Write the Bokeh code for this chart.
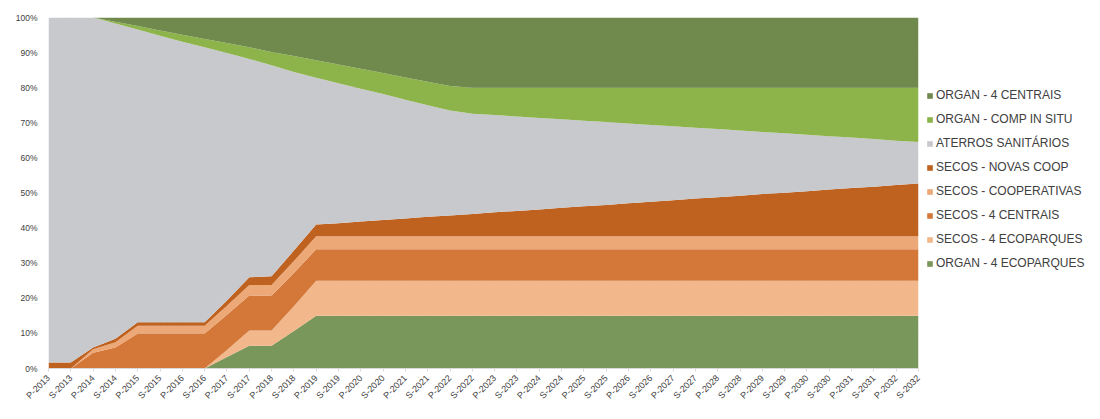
from bokeh.plotting import figure
from bokeh.models import ColumnDataSource, Legend, LegendItem, FixedTicker, Range1d
from bokeh.embed import file_html
from bokeh.resources import INLINE
from math import pi

# ---- data (percent shares) ----
years = list(range(2013, 2033))
periods = [f"{h}-{y}" for y in years for h in ("P", "S")]

organ_4_ecoparques = [0, 0, 0, 0, 0, 0, 0, 0, 3.3, 6.5, 6.5, 10.7] + [15] * 28
secos_4_ecoparques = [0, 0, 0, 0, 0, 0, 0, 0, 2.0, 4.3, 4.3, 7.0] + [10] * 28
secos_4_centrais = [0, 0, 4.5, 6.0, 10, 10, 10, 10, 10, 10, 10, 9.5] + [9] * 28
secos_cooperativas = [0, 0, 1.0, 1.5, 2.2, 2.2, 2.2, 2.2, 2.6, 3.0, 3.0, 3.4] + [3.7] * 28
secos_novas_coop = [1.7, 1.7, 0.5, 1.0, 1.0, 1.0, 1.0, 1.0, 1.5, 2.2, 2.5, 3.0,
                    3.3, 3.7, 4.2, 4.6, 5.0, 5.5, 5.9, 6.3, 6.8, 7.2, 7.6, 8.1, 8.5, 8.9,
                    9.4, 9.8, 10.2, 10.7, 11.1, 11.5, 12.0, 12.4, 12.8, 13.3, 13.7, 14.1, 14.6, 15.0]
aterros_sanitarios = [98.3, 98.3, 94.0, 89.8, 83.4, 81.6, 79.9, 78.3, 70.5, 62.2, 60.1, 50.9,
                      41.8, 39.9, 37.8, 35.9, 33.9, 31.8, 29.9, 28.6, 27.7, 26.9, 26.1, 25.2,
                      24.4, 23.6, 22.7, 21.9, 21.1, 20.2, 19.4, 18.6, 17.7, 16.9, 16.1, 15.2,
                      14.4, 13.6, 12.6, 11.8]
organ_comp_in_situ = [0, 0, 0, 0.5, 1.0, 1.5, 2.0, 2.4, 2.8, 3.3, 3.8, 4.5, 5.0, 5.3, 5.7, 6.0,
                      6.3, 6.7, 7.0, 7.4, 7.8, 8.2, 8.6, 9.0, 9.4, 9.8, 10.2, 10.6, 11.0, 11.4,
                      11.8, 12.2, 12.6, 13.0, 13.4, 13.8, 14.2, 14.6, 15.1, 15.5]
organ_4_centrais = [0, 0, 0, 1.2, 2.4, 3.7, 4.9, 6.1, 7.3, 8.5, 9.8, 11.0, 12.2, 13.4, 14.6,
                    15.8, 17.1, 18.3, 19.5] + [20] * 21

series_names = ["ORGAN - 4 ECOPARQUES", "SECOS - 4 ECOPARQUES", "SECOS - 4 CENTRAIS",
                "SECOS - COOPERATIVAS", "SECOS - NOVAS COOP", "ATERROS SANITÁRIOS",
                "ORGAN - COMP IN SITU", "ORGAN - 4 CENTRAIS"]
series_values = [organ_4_ecoparques, secos_4_ecoparques, secos_4_centrais, secos_cooperativas,
                 secos_novas_coop, aterros_sanitarios, organ_comp_in_situ, organ_4_centrais]
colors = ["#7A975B", "#F2B78B", "#D4783A", "#EDA877", "#BF6220", "#C8C9CD", "#8DB44A", "#6F8A4C"]
y_ticks = list(range(0, 101, 10))

# ---- build ----
keys = [f"s{i}" for i in range(len(series_names))]
data = {"x": list(range(len(periods)))}
for k, v in zip(keys, series_values):
    data[k] = v
source = ColumnDataSource(data)

p = figure(frame_width=870, frame_height=351, output_backend="svg", toolbar_location=None,
           x_range=Range1d(0, len(periods) - 1), y_range=Range1d(0, 100),
           min_border_left=48, min_border_top=17, min_border_bottom=51, min_border_right=0,
           background_fill_color="white", border_fill_color="white")
p.outline_line_color = None

renderers = p.varea_stack(stackers=keys, x="x", color=colors, source=source)

font = "Liberation Sans"
p.xaxis.ticker = FixedTicker(ticks=list(range(len(periods))))
p.xaxis.major_label_overrides = {i: lab for i, lab in enumerate(periods)}
p.xaxis.major_label_orientation = pi / 4
p.xaxis.major_label_text_font_size = "9px"
p.xaxis.major_label_text_font = font
p.xaxis.major_label_text_color = "#404040"
p.xaxis.axis_line_color = "#D9D9D9"
p.xaxis.major_tick_line_color = "#D9D9D9"
p.xaxis.major_tick_in = 0
p.xaxis.major_tick_out = 3
p.xaxis.minor_tick_line_color = None

p.yaxis.ticker = FixedTicker(ticks=y_ticks)
p.yaxis.major_label_overrides = {t: f"{t}%" for t in y_ticks}
p.yaxis.major_label_text_font_size = "8.5px"
p.yaxis.major_label_text_font = font
p.yaxis.major_label_text_color = "#404040"
p.yaxis.axis_line_color = None
p.yaxis.major_tick_line_color = None
p.yaxis.minor_tick_line_color = None

p.xgrid.grid_line_color = "#D9D9D9"
p.ygrid.grid_line_color = "#D9D9D9"

items = [LegendItem(label=n, renderers=[r]) for n, r in zip(series_names, renderers)]
items = items[::-1]
legend = Legend(items=items, location=(8, 98))
legend.label_text_font = font
legend.label_text_font_size = "12px"
legend.label_text_color = "#404040"
legend.glyph_width = 7
legend.glyph_height = 7
legend.label_height = 12
legend.label_standoff = 3
legend.spacing = 10
legend.padding = 0
legend.margin = 0
legend.border_line_color = None
legend.background_fill_alpha = 0
p.add_layout(legend, "right")

open("out.html", "w").write(file_html(p, INLINE))
